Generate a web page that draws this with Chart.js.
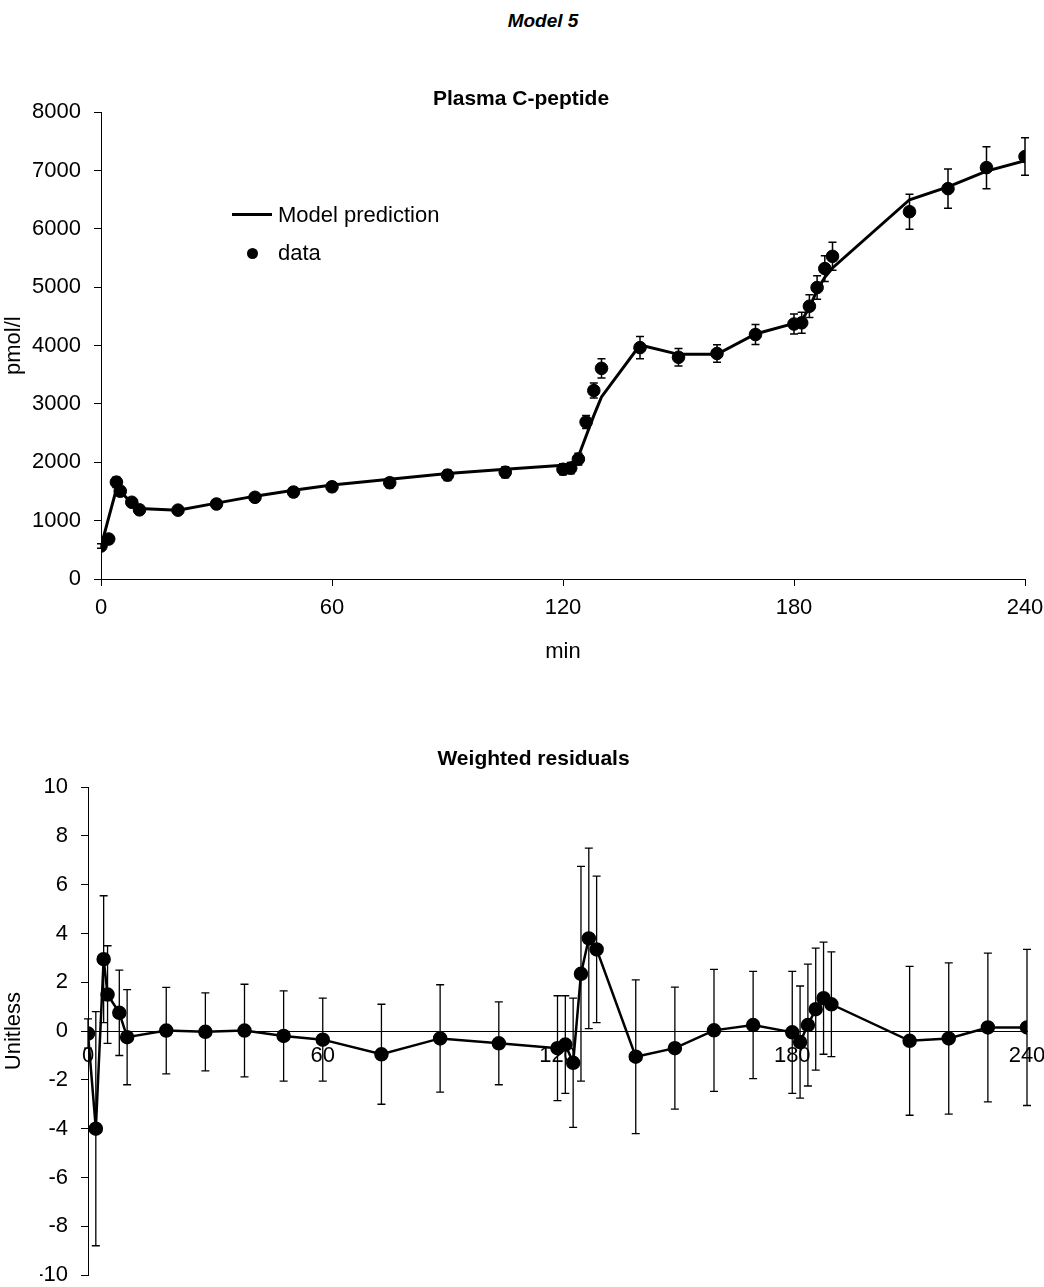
<!DOCTYPE html>
<html>
<head>
<meta charset="utf-8">
<script src="https://cdn.jsdelivr.net/npm/chart.js@4.4.1/dist/chart.umd.min.js"></script>
<style>
  body { margin: 0; background: #fff; font-family: "Liberation Sans", Arial, sans-serif; color: #000; }
  #page { position: relative; width: 1044px; height: 1287px; overflow: hidden; }
  canvas { position: absolute; left: 0; }
  .txt { position: absolute; white-space: nowrap; line-height: 26px; font-size: 22px; }
</style>
</head>
<body>
<div id="page">
  <div class="txt" style="left:0; width:1086px; text-align:center; top:8px; font-size:19px; font-weight:bold; font-style:italic;">Model 5</div>
  <canvas id="chart" width="1044" height="640" style="top:40px"></canvas>
  <canvas id="resid" width="1044" height="587" style="top:700px"></canvas>
  <div style="position:absolute; left:232px; top:213px; width:40px; height:3px; background:#000;"></div>
  <div class="txt" style="left:278px; top:202px;">Model prediction</div>
  <div style="position:absolute; left:247px; top:248px; width:11px; height:11px; border-radius:50%; background:#000;"></div>
  <div class="txt" style="left:278px; top:240px;">data</div>
</div>
<script>
// sampling times (min)
var time = [0, 2, 4, 5, 8, 10, 20, 30, 40, 50, 60, 75, 90, 105, 120, 122, 124, 126, 128, 130,
            140, 150, 160, 170, 180, 182, 184, 186, 188, 190, 210, 220, 230, 240];
// plasma C-peptide data (pmol/l) and SD
var cpep = [565, 685, 1660, 1505, 1315, 1185, 1180, 1285, 1400, 1490, 1580, 1650, 1780, 1830, 1880, 1900, 2055, 2690, 3230, 3610,
            3965, 3800, 3865, 4190, 4370, 4390, 4675, 4995, 5320, 5530, 6295, 6690, 7050, 7240];
var cpepSD = [40, 45, 90, 80, 70, 65, 60, 65, 70, 75, 80, 85, 90, 95, 95, 95, 100, 110, 130, 165,
              190, 150, 150, 170, 170, 180, 195, 200, 220, 240, 300, 335, 360, 320];
// model prediction
var model = [560, 1050, 1540, 1500, 1300, 1210, 1180, 1300, 1420, 1520, 1610, 1710, 1810, 1880, 1950, 1975, 2100, 2450, 2800, 3120,
             4010, 3850, 3850, 4200, 4380, 4430, 4650, 4950, 5170, 5330, 6500, 6720, 6990, 7170];
// weighted residuals and error
var resid = [-0.1, -4.0, 2.95, 1.5, 0.75, -0.25, 0.02, -0.03, 0.02, -0.2, -0.35, -0.95, -0.3, -0.5, -0.7, -0.55, -1.3, 2.35, 3.8, 3.35,
             -1.05, -0.7, 0.03, 0.25, -0.05, -0.45, 0.25, 0.9, 1.35, 1.1, -0.4, -0.3, 0.15, 0.15];
var residErr = [0.6, 4.8, 2.6, 2.0, 1.75, 1.95, 1.77, 1.6, 1.9, 1.85, 1.7, 2.05, 2.2, 1.7, 2.15, 2.0, 2.65, 4.4, 3.7, 3.0,
                3.15, 2.5, 2.5, 2.2, 2.5, 2.3, 2.5, 2.5, 2.3, 2.15, 3.05, 3.1, 3.05, 3.2];

Chart.defaults.font.family = '"Liberation Sans", Arial, sans-serif';
Chart.defaults.font.size = 22;
Chart.defaults.color = '#000';

function pts(ys) {
  return time.map(function (t, i) { return {x: t, y: ys[i]}; });
}

// draws vertical error bars with caps for datasets that have an "errors" array
var errorBars = {
  id: 'errorBars',
  afterDatasetsDraw: function (chart) {
    var ctx = chart.ctx;
    var ys = chart.scales.y;
    chart.data.datasets.forEach(function (ds, i) {
      if (!ds.errors) return;
      var meta = chart.getDatasetMeta(i);
      ctx.save();
      ctx.strokeStyle = '#000';
      ctx.lineWidth = ds.errLineWidth || 1.3;
      meta.data.forEach(function (p, j) {
        var v = ds.data[j].y, e = ds.errors[j];
        var top = ys.getPixelForValue(v + e), bot = ys.getPixelForValue(v - e);
        ctx.beginPath();
        ctx.moveTo(p.x, top); ctx.lineTo(p.x, bot);
        ctx.moveTo(p.x - 4, top); ctx.lineTo(p.x + 4, top);
        ctx.moveTo(p.x - 4, bot); ctx.lineTo(p.x + 4, bot);
        ctx.stroke();
      });
      ctx.restore();
    });
  }
};

function numLabel(v) { return String(v); }

// keep the plot area where it is in the picture, whatever the labels want
function fixX(h) {
  return function (s) { s.height = h; s.paddingLeft = 0; s.paddingRight = 0; s.paddingTop = 0; s.paddingBottom = 0; };
}
function fixY(w) {
  return function (s) { s.width = w; s.paddingLeft = 0; s.paddingRight = 0; s.paddingTop = 0; s.paddingBottom = 0; };
}

var axisGrid = {drawOnChartArea: false, drawTicks: true, tickLength: 7, color: '#000', lineWidth: 1};

new Chart('chart', {
  type: 'scatter',
  data: {
    datasets: [
      {
        label: 'Model prediction',
        data: pts(model),
        showLine: true,
        borderColor: '#000',
        borderWidth: 3,
        pointRadius: 0
      },
      {
        label: 'data',
        data: pts(cpep),
        errors: cpepSD,
        errLineWidth: 1.5,
        pointRadius: 6.3,
        backgroundColor: '#000',
        borderColor: '#000'
      }
    ]
  },
  options: {
    responsive: false,
    animation: false,
    devicePixelRatio: 1,
    layout: {padding: {top: 47, right: 19, left: 17, bottom: 0}},
    plugins: {
      legend: {display: false},
      tooltip: {enabled: false},
      title: {display: true, text: 'Plasma C-peptide', font: {size: 21, weight: 'bold'}, color: '#000', padding: {top: 0, bottom: 0}}
    },
    scales: {
      x: {
        type: 'linear', min: 0, max: 240,
        ticks: {stepSize: 60, padding: 9, maxRotation: 0, callback: numLabel},
        grid: axisGrid,
        border: {color: '#000'},
        title: {display: true, text: 'min', padding: {top: 0, bottom: 15}},
        afterFit: fixX(101)
      },
      y: {
        min: 0, max: 8000,
        ticks: {stepSize: 1000, padding: 13, callback: numLabel},
        grid: axisGrid,
        border: {color: '#000'},
        title: {display: true, text: 'pmol/l', padding: {top: -16, bottom: 0}},
        afterFit: fixY(84)
      }
    }
  },
  plugins: [errorBars]
});

new Chart('resid', {
  type: 'scatter',
  data: {
    datasets: [
      {
        label: 'Weighted residuals',
        data: pts(resid),
        errors: residErr,
        errLineWidth: 1.3,
        showLine: true,
        borderColor: '#000',
        borderWidth: 2.5,
        pointRadius: 6,
        backgroundColor: '#000'
      }
    ]
  },
  options: {
    responsive: false,
    animation: false,
    devicePixelRatio: 1,
    layout: {padding: {top: 47, right: 17, left: 40, bottom: 12}},
    plugins: {
      legend: {display: false},
      tooltip: {enabled: false},
      title: {display: true, text: 'Weighted residuals', font: {size: 21, weight: 'bold'}, color: '#000', padding: {top: 0, bottom: 15}}
    },
    scales: {
      x: {
        type: 'linear', min: 0, max: 240,
        position: {y: 0},
        ticks: {stepSize: 60, padding: 12, maxRotation: 0, callback: numLabel},
        grid: {drawOnChartArea: false, drawTicks: false, color: '#000'},
        border: {color: '#000'},
        afterFit: fixX(0)
      },
      y: {
        min: -10, max: 10,
        ticks: {stepSize: 2, padding: 13, callback: numLabel},
        grid: axisGrid,
        border: {color: '#000'},
        title: {display: true, text: 'Unitless', padding: {top: -39, bottom: 0}},
        afterFit: fixY(48)
      }
    }
  },
  plugins: [errorBars]
});
</script>
</body>
</html>
